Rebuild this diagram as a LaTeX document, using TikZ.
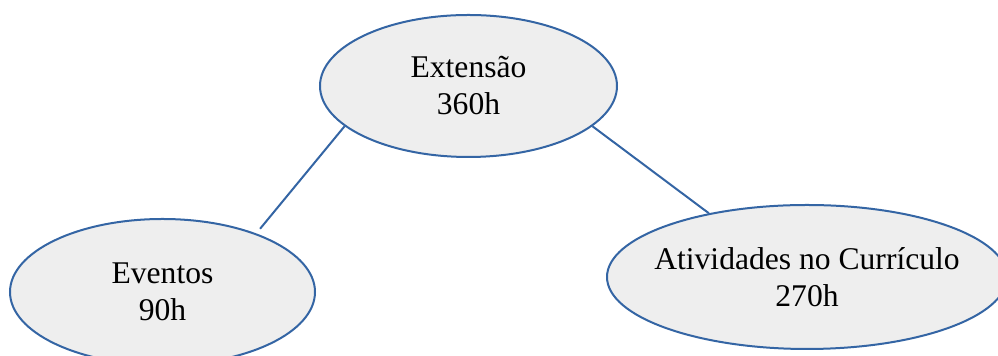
\documentclass[tikz,border=0pt]{standalone}
\usepackage{fontspec}
\setmainfont{Liberation Serif}
\usepackage{tikz}
\usetikzlibrary{shapes.geometric,positioning}
\definecolor{edgeblue}{HTML}{3465A4}
\definecolor{bubblegray}{HTML}{EEEEEE}

\begin{document}
\begin{tikzpicture}[x=0.5pt, y=-0.5pt,
    hours/.style={ellipse, draw=edgeblue, fill=bubblegray, line width=1pt,
                  inner xsep=-12pt, inner ysep=0pt,
                  align=center, font=\fontsize{15.8}{18.5}\selectfont},
    link/.style={draw=edgeblue, line width=1pt},
]
\useasboundingbox (0,0) rectangle (998,356);

\node[hours, minimum width=148.5pt, minimum height=71pt] (ext) at (468.5,86) {Extensão\\360h};
\node[hours, minimum width=152.5pt, minimum height=73pt] (eventos) at (162.5,292) {Eventos\\90h};
\node[hours, minimum width=200pt, minimum height=72pt] (curric) at (807,277) {Atividades no Currículo\\270h};

\draw[link, shorten >=3pt] (ext.198.9) -- (eventos.32);
\draw[link] (ext.342.6) -- (curric.147.6);

\end{tikzpicture}
\end{document}
